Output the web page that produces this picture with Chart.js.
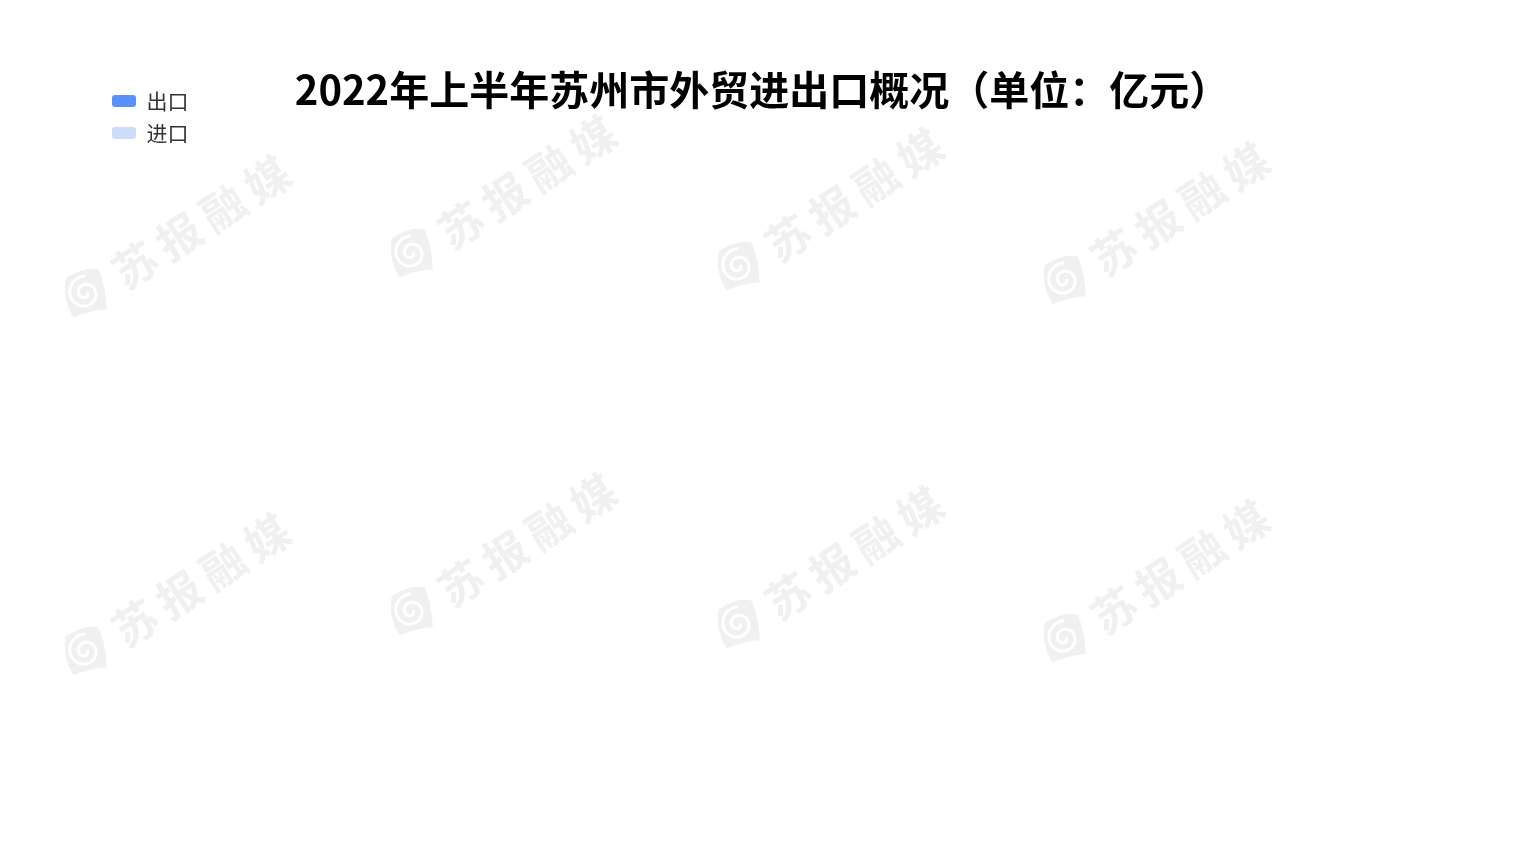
<!DOCTYPE html>
<html>
<head>
<meta charset="utf-8">
<script src="https://cdn.jsdelivr.net/npm/chart.js@4/dist/chart.umd.min.js"></script>
<style>
html,body{margin:0;padding:0;background:#fff;}
#wrap{width:1521px;height:854px;position:relative;}
</style>
</head>
<body>
<div id="wrap"><canvas id="c" width="1521" height="854"></canvas></div>
<script>
// Data: the reference frame shows no bars, so the series are empty
const titleText = '2022年上半年苏州市外贸进出口概况（单位：亿元）';
const categories = [];
const exportValues = [];
const importValues = [];
const seriesNames = ['出口', '进口'];
const seriesColors = ['#5B8FF9', '#CDDDF9'];
const watermarkText = '苏报融媒';

const watermarkPlugin = {
  id: 'watermark',
  beforeDraw(chart) {
    const ctx = chart.ctx;
    ctx.save();
    ctx.fillStyle = '#ffffff';
    ctx.fillRect(0, 0, chart.width, chart.height);
    const anchors = [[85, 293], [411, 253], [738, 266], [1064, 280]];
    const rows = [0, 358];
    const col = '#f0f0f0';
    rows.forEach(dy => {
      anchors.forEach(([ax, ay]) => {
        const x = ax, y = ay + dy;
        // logo
        ctx.save();
        ctx.translate(x, y);
        ctx.rotate(-0.3);
        ctx.fillStyle = col;
        ctx.beginPath();
        ctx.moveTo(-14, -20);
        ctx.quadraticCurveTo(10, -26, 20, -18);
        ctx.quadraticCurveTo(22, 0, 16, 22);
        ctx.quadraticCurveTo(0, 18, -18, 20);
        ctx.quadraticCurveTo(-24, 0, -14, -20);
        ctx.fill();
        ctx.strokeStyle = '#ffffff';
        ctx.lineWidth = 3;
        ctx.beginPath();
        for (let t = 0; t <= 3.6 * Math.PI; t += 0.1) {
          const r = 2 + t * 1.35;
          const px = r * Math.cos(t), py = r * Math.sin(t);
          if (t === 0) ctx.moveTo(px, py); else ctx.lineTo(px, py);
        }
        ctx.stroke();
        ctx.restore();
        // text, char by char
        ctx.fillStyle = col;
        ctx.font = 'bold 44px "Noto Sans CJK SC"';
        ctx.textAlign = 'center';
        ctx.textBaseline = 'middle';
        const chars = Array.from(watermarkText);
        chars.forEach((ch, i) => {
          ctx.save();
          ctx.translate(x + 50 + i * 44, y - 28 - i * 28.5);
          ctx.rotate(-33 * Math.PI / 180);
          ctx.fillText(ch, 0, 0);
          ctx.restore();
        });
      });
    });
    ctx.restore();
  }
};

new Chart(document.getElementById('c'), {
  type: 'bar',
  data: {
    labels: categories,
    datasets: [
      { label: seriesNames[0], data: exportValues, backgroundColor: seriesColors[0], borderColor: seriesColors[0] },
      { label: seriesNames[1], data: importValues, backgroundColor: seriesColors[1], borderColor: seriesColors[1] }
    ]
  },
  options: {
    responsive: false,
    animation: false,
    layout: { padding: { top: 56, left: 101, right: 98, bottom: 20 } },
    scales: {
      x: { display: false },
      y: { display: false }
    },
    plugins: {
      tooltip: { enabled: false },
      title: {
        display: true,
        text: titleText,
        color: '#000',
        font: { family: '"Noto Sans CJK SC", "Noto Sans", sans-serif', size: 40, weight: 'bold', lineHeight: 1.2 },
        padding: { top: 10, bottom: 10 }
      },
      legend: {
        position: 'left',
        align: 'start',
        title: { display: true, text: '', font: { size: 10, lineHeight: 1 }, padding: { top: 13.5, bottom: 0 } },
        labels: {
          boxWidth: 24,
          boxHeight: 12,
          padding: 11,
          color: '#333',
          useBorderRadius: true,
          borderRadius: 3,
          font: { family: '"Noto Sans CJK SC", "Noto Sans", sans-serif', size: 21 }
        }
      }
    }
  },
  plugins: [watermarkPlugin]
});
</script>
</body>
</html>
